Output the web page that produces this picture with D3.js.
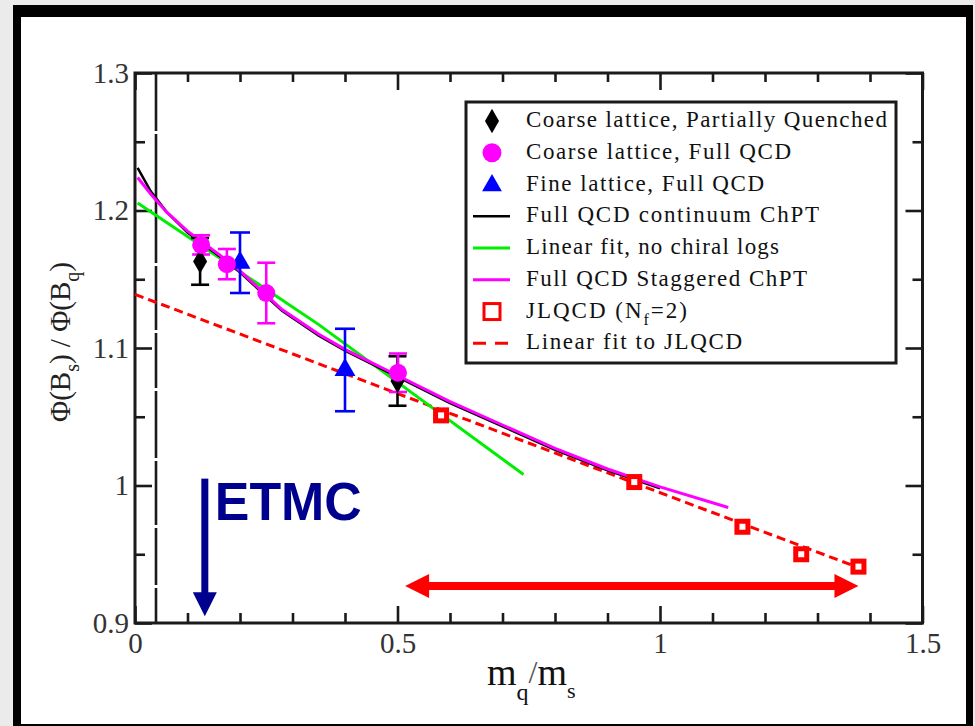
<!DOCTYPE html>
<html>
<head>
<meta charset="utf-8">
<script src="https://cdn.jsdelivr.net/npm/d3@7"></script>
<style>
  html, body { margin: 0; padding: 0; background: #ebebeb; }
  svg { display: block; }
</style>
</head>
<body>
<svg id="chart" width="975" height="726"></svg>
<script>
// ---------- data ----------
const xTickValues = [0, 0.5, 1, 1.5];
const xTickLabels = ["0", "0.5", "1", "1.5"];
const yTickValues = [0.9, 1.0, 1.1, 1.2, 1.3];
const yTickLabels = ["0.9", "1", "1.1", "1.2", "1.3"];

// Coarse lattice, Partially Quenched (black)
const pqX = [0.124, 0.500];
const pqY = [1.163, 1.076];
const pqErr = [0.017, 0.018];

// Coarse lattice, Full QCD (magenta)
const cfX = [0.126, 0.175, 0.250, 0.501];
const cfY = [1.175, 1.161, 1.140, 1.082];
const cfErr = [0.007, 0.011, 0.022, 0.014];

// Fine lattice, Full QCD (blue)
const fineX = [0.200, 0.400];
const fineY = [1.162, 1.084];
const fineErr = [0.022, 0.030];

// JLQCD (Nf=2) (red squares)
const jlX = [0.583, 0.951, 1.157, 1.269, 1.378];
const jlY = [1.051, 1.0025, 0.970, 0.950, 0.941];

// Full QCD continuum ChPT (black curve)
const contX = [0.005, 0.03, 0.06, 0.10, 0.16, 0.20, 0.28, 0.35, 0.40, 0.50, 0.60, 0.70, 0.80, 0.90, 1.00];
const contY = [1.231, 1.214, 1.199, 1.184, 1.167, 1.155, 1.127, 1.109, 1.098, 1.079, 1.060, 1.043, 1.026, 1.011, 0.998];

// Linear fit, no chiral logs (green)
const linX = [0.005, 0.35, 0.74];
const linY = [1.2055, 1.117, 1.008];

// Full QCD Staggered ChPT (magenta curve)
const stagX = [0.005, 0.03, 0.06, 0.10, 0.16, 0.20, 0.28, 0.35, 0.40, 0.50, 0.60, 0.70, 0.80, 0.90, 1.00, 1.13];
const stagY = [1.224, 1.212, 1.199, 1.185, 1.168, 1.156, 1.128, 1.110, 1.099, 1.080, 1.061, 1.044, 1.027, 1.012, 0.999, 0.984];

// Linear fit to JLQCD (red dashed)
const jlFitX = [0.0, 1.38];
const jlFitY = [1.139, 0.940];

// annotations
const etmcX = 0.133, etmcTop = 1.005, etmcTip = 0.905;
const rangeX0 = 0.5145, rangeX1 = 1.378, rangeY = 0.927;

const legendLabels = [
  "Coarse lattice, Partially Quenched",
  "Coarse lattice, Full QCD",
  "Fine lattice, Full QCD",
  "Full QCD continuum ChPT",
  "Linear fit, no chiral logs",
  "Full QCD Staggered ChPT",
  "JLQCD (N|f|=2)",
  "Linear fit to JLQCD"
];
const legendWidths = [361, 265, 238, 293, 253, 281, 161, 216];

// ---------- drawing ----------
const svg = d3.select("#chart");
const serif = "'Liberation Serif', 'Times New Roman', serif";
const axisColor = "#1a1a1a";

// frame
svg.append("rect").attr("x", 13).attr("y", 5).attr("width", 960).attr("height", 730).attr("fill", "#000");
svg.append("rect").attr("x", 21).attr("y", 17).attr("width", 945).attr("height", 707).attr("fill", "#fff");

const x = d3.scaleLinear().domain([0, 1.5]).range([135, 922.5]);
const y = d3.scaleLinear().domain([0.9, 1.3]).range([623, 73]);

const minorX = d3.range(0, 1.5001, 0.1).filter(v => Math.abs(v * 2 - Math.round(v * 2)) > 1e-6);
const minorY = d3.range(0.9, 1.3001, 0.05).filter(v => Math.abs(v * 10 - Math.round(v * 10)) > 1e-6);

function styleAxis(g) {
  g.select(".domain").remove();
  g.selectAll(".tick line").attr("stroke", axisColor).attr("stroke-width", 2.6);
  g.selectAll(".tick text").attr("font-family", serif).attr("font-size", 29).attr("fill", "#333");
}

// bottom
svg.append("g").attr("transform", `translate(0,${y(0.9)})`)
  .call(d3.axisBottom(x).tickValues(minorX).tickSize(-10).tickFormat(""))
  .call(styleAxis);
svg.append("g").attr("transform", `translate(0,${y(0.9)})`)
  .call(d3.axisBottom(x).tickValues(xTickValues).tickSize(-17).tickPadding(9)
    .tickFormat((d, i) => xTickLabels[i]))
  .call(styleAxis);
// top
svg.append("g").attr("transform", `translate(0,${y(1.3)})`)
  .call(d3.axisTop(x).tickValues(minorX).tickSize(-9).tickFormat(""))
  .call(styleAxis);
svg.append("g").attr("transform", `translate(0,${y(1.3)})`)
  .call(d3.axisTop(x).tickValues(xTickValues).tickSize(-17).tickFormat(""))
  .call(styleAxis);
// left
svg.append("g").attr("transform", `translate(${x(0)},0)`)
  .call(d3.axisLeft(y).tickValues(minorY).tickSize(-10).tickFormat(""))
  .call(styleAxis);
svg.append("g").attr("transform", `translate(${x(0)},0)`)
  .call(d3.axisLeft(y).tickValues(yTickValues).tickSize(-17).tickPadding(6)
    .tickFormat((d, i) => yTickLabels[i]))
  .call(styleAxis);
// right
svg.append("g").attr("transform", `translate(${x(1.5)},0)`)
  .call(d3.axisRight(y).tickValues(minorY).tickSize(-10).tickFormat(""))
  .call(styleAxis);
svg.append("g").attr("transform", `translate(${x(1.5)},0)`)
  .call(d3.axisRight(y).tickValues(yTickValues).tickSize(-17).tickFormat(""))
  .call(styleAxis);

// plot box
svg.append("rect").attr("x", x(0)).attr("y", y(1.3))
  .attr("width", x(1.5) - x(0)).attr("height", y(0.9) - y(1.3))
  .attr("fill", "none").attr("stroke", axisColor).attr("stroke-width", 3);

// the vertical line near x=0.04
svg.append("line").attr("x1", x(0.04)).attr("x2", x(0.04)).attr("y1", y(1.3)).attr("y2", y(0.9))
  .attr("stroke", axisColor).attr("stroke-width", 2.6)
  .attr("stroke-dasharray", "58,3,129,3,64,3,55,3,67,3,64,3,57,3,40");

// lines
const line = d3.line().x(d => x(d[0])).y(d => y(d[1]));
const zip = (a, b) => a.map((v, i) => [v, b[i]]);

svg.append("path").datum(zip(jlFitX, jlFitY)).attr("d", line)
  .attr("fill", "none").attr("stroke", "#ff0000").attr("stroke-width", 3)
  .attr("stroke-dasharray", "9,5");
svg.append("path").datum(zip(linX, linY)).attr("d", line)
  .attr("fill", "none").attr("stroke", "#00ee00").attr("stroke-width", 3);
svg.append("path").datum(zip(contX, contY)).attr("d", line)
  .attr("fill", "none").attr("stroke", "#000").attr("stroke-width", 2.5);
svg.append("path").datum(zip(stagX, stagY)).attr("d", line)
  .attr("fill", "none").attr("stroke", "#ff00ff").attr("stroke-width", 3);

// error bars
function errorBars(xs, ys, es, color, cap) {
  const g = svg.append("g").attr("stroke", color).attr("stroke-width", 2.6);
  xs.forEach((xv, i) => {
    const top = y(ys[i] + es[i]), bot = y(ys[i] - es[i]), cx = x(xv);
    g.append("line").attr("x1", cx).attr("x2", cx).attr("y1", top).attr("y2", bot);
    g.append("line").attr("x1", cx - cap).attr("x2", cx + cap).attr("y1", top).attr("y2", top);
    g.append("line").attr("x1", cx - cap).attr("x2", cx + cap).attr("y1", bot).attr("y2", bot);
  });
}
errorBars(pqX, pqY, pqErr, "#000", 9);
errorBars(fineX, fineY, fineErr, "#0000ff", 10);
errorBars(cfX, cfY, cfErr, "#ff00ff", 9);

// markers
const sym = (type, size) => d3.symbol().type(type).size(size)();
svg.append("g").selectAll("path").data(zip(pqX, pqY)).join("path")
  .attr("d", sym(d3.symbolDiamond, 170))
  .attr("transform", d => `translate(${x(d[0])},${y(d[1])})`).attr("fill", "#000");
svg.append("g").selectAll("path").data(zip(fineX, fineY)).join("path")
  .attr("d", sym(d3.symbolTriangle, 190))
  .attr("transform", d => `translate(${x(d[0])},${y(d[1])})`).attr("fill", "#0000ff");
svg.append("g").selectAll("circle").data(zip(cfX, cfY)).join("circle")
  .attr("cx", d => x(d[0])).attr("cy", d => y(d[1])).attr("r", 9).attr("fill", "#ff00ff");
svg.append("g").selectAll("rect").data(zip(jlX, jlY)).join("rect")
  .attr("x", d => x(d[0]) - 5.5).attr("y", d => y(d[1]) - 5.5).attr("width", 11).attr("height", 11)
  .attr("fill", "#fff").attr("stroke", "#ff0000").attr("stroke-width", 5);

// ETMC arrow + label
const navy = "#00008f";
svg.append("line").attr("x1", x(etmcX)).attr("x2", x(etmcX)).attr("y1", y(etmcTop)).attr("y2", y(etmcTip) - 20)
  .attr("stroke", navy).attr("stroke-width", 7);
svg.append("path")
  .attr("d", `M${x(etmcX) - 12},${y(etmcTip) - 24} L${x(etmcX) + 12},${y(etmcTip) - 24} L${x(etmcX)},${y(etmcTip)} Z`)
  .attr("fill", navy);
svg.append("text").attr("x", x(etmcX) + 10).attr("y", y(etmcTop) + 41)
  .attr("font-family", "'Liberation Sans', Arial, sans-serif").attr("font-weight", "bold")
  .attr("font-size", 54).attr("fill", navy).attr("textLength", 147).attr("lengthAdjust", "spacingAndGlyphs")
  .text("ETMC");

// red range arrow
const red = "#ff0000";
const ay = y(rangeY), ax0 = x(rangeX0), ax1 = x(rangeX1);
svg.append("line").attr("x1", ax0 + 20).attr("x2", ax1 - 20).attr("y1", ay).attr("y2", ay)
  .attr("stroke", red).attr("stroke-width", 8);
svg.append("path").attr("d", `M${ax1},${ay} L${ax1 - 24},${ay - 12} L${ax1 - 24},${ay + 12} Z`).attr("fill", red);
svg.append("path").attr("d", `M${ax0},${ay} L${ax0 + 24},${ay - 12} L${ax0 + 24},${ay + 12} Z`).attr("fill", red);

// legend
const lg = svg.append("g");
lg.append("rect").attr("x", 466).attr("y", 102).attr("width", 430).attr("height", 261)
  .attr("fill", "#fff").attr("stroke", axisColor).attr("stroke-width", 3);
legendLabels.forEach((lab, i) => {
  const base = 127 + i * 31.76;
  const cy = base - 6;
  const cx = 492;
  if (i === 0) lg.append("path").attr("d", sym(d3.symbolDiamond, 170)).attr("transform", `translate(${cx},${cy})`).attr("fill", "#000");
  if (i === 1) lg.append("circle").attr("cx", cx).attr("cy", cy).attr("r", 9.5).attr("fill", "#ff00ff");
  if (i === 2) lg.append("path").attr("d", sym(d3.symbolTriangle, 170)).attr("transform", `translate(${cx},${cy + 1})`).attr("fill", "#0000ff");
  if (i === 3) lg.append("line").attr("x1", 473).attr("x2", 510).attr("y1", cy).attr("y2", cy).attr("stroke", "#000").attr("stroke-width", 2.5);
  if (i === 4) lg.append("line").attr("x1", 473).attr("x2", 510).attr("y1", cy).attr("y2", cy).attr("stroke", "#00ee00").attr("stroke-width", 3);
  if (i === 5) lg.append("line").attr("x1", 473).attr("x2", 510).attr("y1", cy).attr("y2", cy).attr("stroke", "#ff00ff").attr("stroke-width", 3);
  if (i === 6) lg.append("rect").attr("x", cx - 8).attr("y", cy - 8).attr("width", 16).attr("height", 16).attr("fill", "#fff").attr("stroke", red).attr("stroke-width", 3);
  if (i === 7) lg.append("line").attr("x1", 473).attr("x2", 508).attr("y1", cy).attr("y2", cy).attr("stroke", red).attr("stroke-width", 3).attr("stroke-dasharray", "13,9");
  const t = lg.append("text").attr("x", 526).attr("y", base)
    .attr("font-family", serif).attr("font-size", 23).attr("fill", "#111")
    .attr("textLength", legendWidths[i]).attr("lengthAdjust", "spacing");
  const parts = lab.split("|");
  if (parts.length === 1) t.text(lab);
  else {
    t.append("tspan").text(parts[0]);
    t.append("tspan").attr("font-size", 16).attr("dy", 7).text(parts[1]);
    t.append("tspan").attr("dy", -7).text(parts[2]);
  }
});

// x axis title
const xt = svg.append("text").attr("x", 487).attr("y", 685)
  .attr("font-family", serif).attr("font-size", 38).attr("fill", "#111");
xt.append("tspan").text("m");
xt.append("tspan").attr("font-size", 24).attr("dy", 15).text("q");
xt.append("tspan").attr("font-size", 32).attr("dy", -17).attr("fill", "#555").text("/");
xt.append("tspan").attr("dy", 2).text("m");
xt.append("tspan").attr("font-size", 22).attr("dy", 13).text("s");

// y axis title
const yt = svg.append("text").attr("transform", "translate(70,342) rotate(-90)")
  .attr("text-anchor", "middle").attr("font-family", serif).attr("font-size", 29).attr("fill", "#222");
yt.append("tspan").text("\u03A6(B");
yt.append("tspan").attr("font-size", 20).attr("dy", 9).text("s");
yt.append("tspan").attr("dy", -9).text(") / \u03A6(B");
yt.append("tspan").attr("font-size", 20).attr("dy", 9).text("q");
yt.append("tspan").attr("dy", -9).text(")");
</script>
</body>
</html>
